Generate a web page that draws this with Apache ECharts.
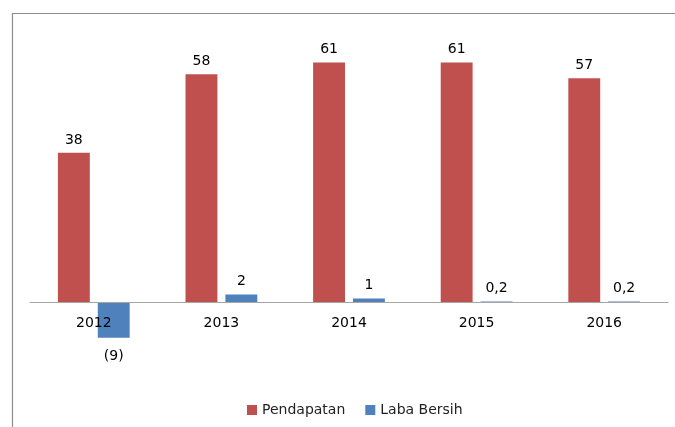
<!DOCTYPE html>
<html>
<head>
<meta charset="utf-8">
<script src="https://cdn.jsdelivr.net/npm/echarts@6/dist/echarts.min.js"></script>
<style>
  html, body { margin: 0; padding: 0; background: #fff; }
  #chart { width: 675px; height: 427px; }
</style>
</head>
<body>
<div id="chart"></div>
<script>
// data
var years = ['2012', '2013', '2014', '2015', '2016'];
var pendapatan = [38, 58, 61, 61, 57];
var labaBersih = [-9, 2, 1, 0.2, 0.2];

// angka negatif pakai kurung, desimal pakai koma
function fmt(p) {
  var v = p.value;
  var s = String(Math.abs(v)).replace('.', ',');
  return v < 0 ? '(' + s + ')' : s;
}

var chart = echarts.init(document.getElementById('chart'));
var font = 'DejaVu Sans';

// grid: tinggi 354px untuk rentang -20..70, nol di y=302
var yMin = -20, yMax = 70;
var gridTop = 27, gridBottom = 46;
var plotH = 427 - gridTop - gridBottom;
var zeroOffset = plotH * (0 - yMin) / (yMax - yMin);

var option = {
  animation: false,
  color: ['#C0504D', '#4F81BD'],
  textStyle: { fontFamily: font },
  graphic: [{
    type: 'rect',
    left: 10, top: 11,
    shape: { width: 700, height: 500 },
    style: { fill: 'none', stroke: '#8c8c8c', lineWidth: 1.2 },
    silent: true
  }],
  legend: {
    bottom: 5,
    left: 242,
    itemWidth: 10,
    itemHeight: 10,
    itemGap: 20,
    icon: 'rect',
    textStyle: { fontFamily: font, fontSize: 14, color: '#222' },
    data: ['Pendapatan', 'Laba Bersih']
  },
  grid: {
    left: 30,
    right: 7,
    top: gridTop,
    bottom: gridBottom
  },
  xAxis: {
    type: 'category',
    data: years,
    position: 'bottom',
    offset: -zeroOffset,
    z: 5,
    axisLine: { onZero: false, lineStyle: { color: '#a6a6a6', width: 1.2 } },
    axisTick: { show: false },
    axisLabel: { color: '#000', fontSize: 14, margin: 14, fontFamily: font }
  },
  yAxis: {
    type: 'value',
    min: yMin,
    max: yMax,
    axisLine: { show: false },
    axisTick: { show: false },
    axisLabel: { show: false },
    splitLine: { show: false }
  },
  series: [{
    name: 'Pendapatan',
    type: 'bar',
    data: pendapatan,
    barWidth: '25%',
    barGap: '25%',
    label: { show: true, position: 'top', distance: 6, color: '#000', fontSize: 14, fontFamily: font, formatter: fmt }
  }, {
    name: 'Laba Bersih',
    type: 'bar',
    data: labaBersih,
    barWidth: '25%',
    label: { show: true, position: 'top', distance: 6, color: '#000', fontSize: 14, fontFamily: font, formatter: fmt }
  }]
};

// label negatif di bawah batang
option.series[1].data = labaBersih.map(function (v) {
  if (v < 0) {
    return { value: v, label: { position: 'bottom', distance: 12 } };
  }
  return v;
});

chart.setOption(option);
</script>
</body>
</html>
